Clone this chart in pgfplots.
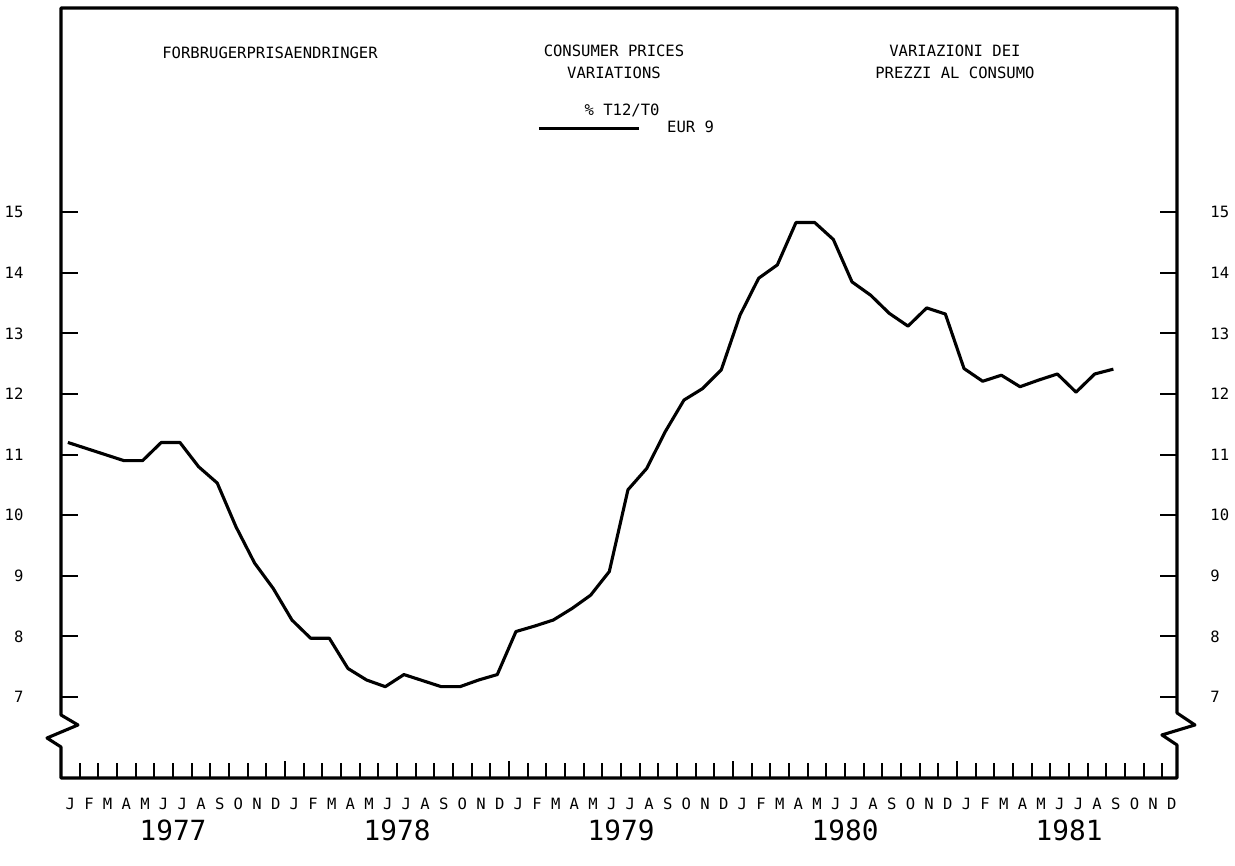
\documentclass[border=0pt]{standalone}
\usepackage{fontspec}
\setmainfont{DejaVu Sans Mono}
\usepackage{pgfplots}
\pgfplotsset{compat=1.18}

% EUR 9 consumer prices, % change T12/T0, monthly Jan 1977 - Sep 1981
% x = month index (0 = Jan 1977) + 0.37
\pgfplotstableread{
x      y
0.37   11.20
1.37   11.10
2.37   11.00
3.37   10.90
4.37   10.90
5.37   11.20
6.37   11.20
7.37   10.80
8.37   10.53
9.37   9.81
10.37  9.21
11.37  8.79
12.37  8.27
13.37  7.97
14.37  7.97
15.37  7.47
16.37  7.28
17.37  7.17
18.37  7.37
19.37  7.27
20.37  7.17
21.37  7.17
22.37  7.28
23.37  7.37
24.37  8.08
25.37  8.17
26.37  8.27
27.37  8.46
28.37  8.68
29.37  9.07
30.37  10.42
31.37  10.77
32.37  11.38
33.37  11.90
34.37  12.09
35.37  12.40
36.37  13.30
37.37  13.91
38.37  14.13
39.37  14.83
40.37  14.83
41.37  14.55
42.37  13.85
43.37  13.63
44.37  13.33
45.37  13.12
46.37  13.42
47.37  13.32
48.37  12.42
49.37  12.21
50.37  12.31
51.37  12.12
52.37  12.23
53.37  12.33
54.37  12.03
55.37  12.33
56.37  12.41
}\cpidata

\begin{document}
\begin{tikzpicture}
\begin{axis}[
    scale only axis,
    width=502.2pt, height=346.5pt,
    xmin=0, xmax=59.78, ymin=5.663, ymax=18.37,
    clip=false,
    axis line style={draw=none},
    tick align=inside,
    tick style={black, line width=0.9pt},
    major tick length=7.5pt,
    minor tick length=6.75pt,
    xtick pos=lower,
    xtick={12,24,36,48},
    xticklabels={},
    minor xtick={1,...,59},
    extra x ticks={0.5,1.5,...,59.5},
    extra x tick labels={J,F,M,A,M,J,J,A,S,O,N,D,J,F,M,A,M,J,J,A,S,O,N,D,J,F,M,A,M,J,J,A,S,O,N,D,J,F,M,A,M,J,J,A,S,O,N,D,J,F,M,A,M,J,J,A,S,O,N,D},
    extra x tick style={major tick length=0pt, xticklabel style={yshift=-5.5pt}},
    ytick={7,...,15},
    ytick pos=both,
    yticklabel pos=left,
    yticklabel style={xshift=-13.4pt},
    /pgf/number format/assume math mode=true,
    tick label style={font=\fontsize{7}{8}\selectfont},
    legend style={draw=none, fill=none, inner sep=0pt,
      at={(0.4265,0.844)}, anchor=west,
      font=\fontsize{7}{8}\selectfont,
      /tikz/every odd column/.append style={column sep=10pt}},
    legend image code/.code={\draw[#1] (0pt,0pt) -- (45pt,0pt);},
]
  \coordinate (sw) at (rel axis cs:0,0);

  % frame with axis breaks
  \draw[line width=1.4pt, line join=round]
    (axis cs:0,6.703) -- (axis cs:0.91,6.538) -- (axis cs:-0.75,6.323)
    -- (axis cs:0,6.175) -- (axis cs:0,5.663) -- (axis cs:59.78,5.663)
    -- (axis cs:59.78,6.208) -- (axis cs:58.97,6.373) -- (axis cs:60.74,6.538)
    -- (axis cs:59.78,6.736) -- (axis cs:59.78,18.37) -- (axis cs:0,18.37)
    -- cycle;

  \addplot[black, line width=1.4pt, line join=round] table {\cpidata};
  \addlegendentry{EUR 9}

  % titles
  \node[font=\fontsize{7}{8}\selectfont] at (rel axis cs:0.1873,0.9416) {FORBRUGERPRISAENDRINGER};
  \node[font=\fontsize{7}{10}\selectfont, align=center] at (rel axis cs:0.4955,0.9299) {CONSUMER PRICES\\VARIATIONS};
  \node[font=\fontsize{7}{10}\selectfont, align=center] at (rel axis cs:0.801,0.9299) {VARIAZIONI DEI\\PREZZI AL CONSUMO};
  \node[font=\fontsize{7}{8}\selectfont] at (rel axis cs:0.5027,0.8675) {\% T12/T0};

  % years
  \node[font=\fontsize{12.5}{13}\selectfont] at ([yshift=-23.4pt]axis cs:6,5.663) {1977};
  \node[font=\fontsize{12.5}{13}\selectfont] at ([yshift=-23.4pt]axis cs:18,5.663) {1978};
  \node[font=\fontsize{12.5}{13}\selectfont] at ([yshift=-23.4pt]axis cs:30,5.663) {1979};
  \node[font=\fontsize{12.5}{13}\selectfont] at ([yshift=-23.4pt]axis cs:42,5.663) {1980};
  \node[font=\fontsize{12.5}{13}\selectfont] at ([yshift=-23.4pt]axis cs:54,5.663) {1981};
\end{axis}
% right-hand labels
\begin{axis}[
    scale only axis,
    width=502.2pt, height=346.5pt,
    xmin=0, xmax=59.78, ymin=5.663, ymax=18.37,
    axis line style={draw=none},
    xtick=\empty,
    ytick={7,...,15},
    ytick style={draw=none},
    ytick pos=right,
    yticklabel pos=right,
    yticklabel style={xshift=11.5pt},
    /pgf/number format/assume math mode=true,
    tick label style={font=\fontsize{7}{8}\selectfont},
]
\end{axis}
\pgfresetboundingbox
\path ([shift={(-27.45pt,-39.6pt)}]sw) rectangle ++(555.75pt,389.7pt);
\end{tikzpicture}
\end{document}
